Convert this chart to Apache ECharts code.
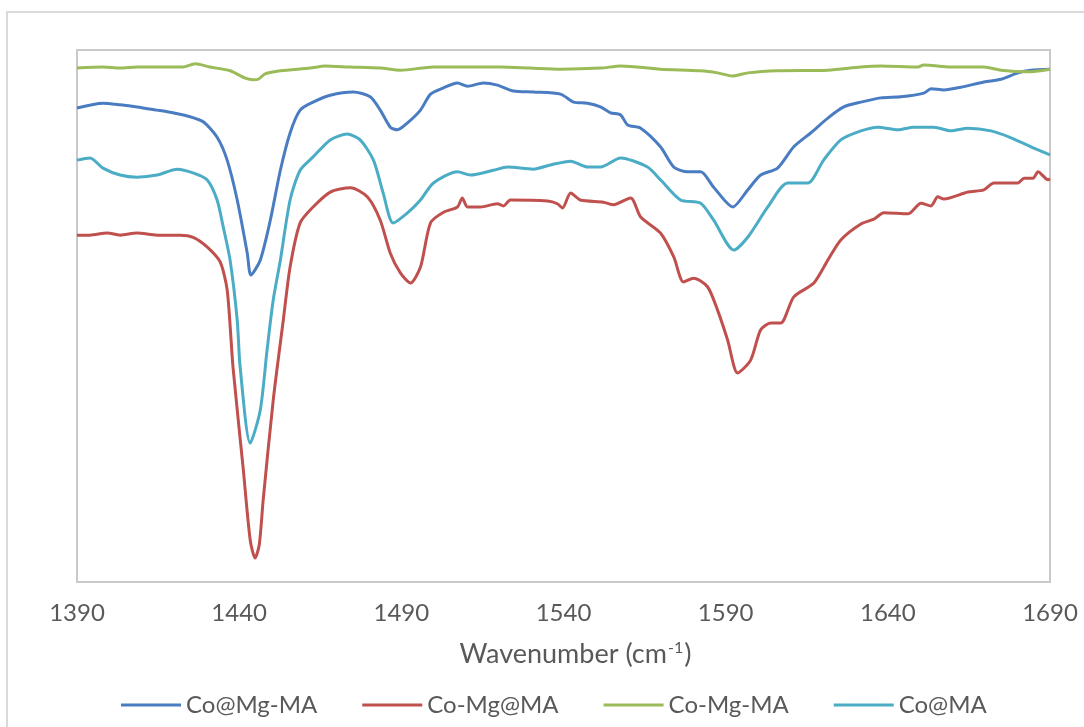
<!DOCTYPE html>
<html>
<head>
<meta charset="utf-8">
<title>FTIR spectra</title>
<script src="https://cdn.jsdelivr.net/npm/echarts@6/dist/echarts.min.js"></script>
<style>
  html, body { margin: 0; padding: 0; background: #ffffff; }
  #chart { width: 1084px; height: 727px; }
</style>
</head>
<body>
<div id="chart"></div>
<script>
// FTIR spectra, 1390–1690 cm-1, transmittance in arbitrary units (offset traces)
const seriesNames = ['Co@Mg-MA', 'Co-Mg@MA', 'Co-Mg-MA', 'Co@MA'];
const xTicks = [1390, 1440, 1490, 1540, 1590, 1640, 1690];

// Co@Mg-MA
const coAtMgMA = [
  [1390, 89.1], [1398, 90.0], [1403.3, 89.7], [1408.5, 89.3], [1414.7, 88.7],
  [1418.7, 88.3], [1424, 87.6], [1428.9, 86.5], [1433.2, 83.6], [1436.3, 79.3],
  [1439.4, 71.8], [1442.5, 61.8], [1443.6, 57.7], [1446.5, 60.5], [1449.6, 68.0],
  [1452.7, 77.4], [1455.7, 84.4], [1458.8, 88.7], [1462.8, 90.2], [1468.1, 91.5],
  [1475.2, 92.1], [1480.4, 91.2], [1483.5, 88.7], [1486.6, 85.5], [1488.8, 85.0],
  [1491.9, 86.3], [1495.9, 88.7], [1499, 91.7], [1503, 92.9], [1507.3, 93.8],
  [1510.4, 93.2], [1515.3, 93.8], [1519.6, 93.4], [1524.6, 92.3], [1530.7, 92.1],
  [1539.1, 91.7], [1543.1, 90.2], [1547.4, 90.0], [1551.4, 89.3], [1554.5, 88.2],
  [1557.6, 87.8], [1559.8, 85.9], [1563.8, 85.3], [1569.9, 81.8], [1574, 78.0],
  [1578.3, 77.1], [1582.3, 77.1], [1586.3, 74.2], [1592.2, 70.5], [1596.8, 73.7],
  [1600.8, 76.5], [1606, 77.8], [1611, 81.8], [1616.2, 84.4], [1621.5, 87.2],
  [1626.4, 89.3], [1631.7, 90.2], [1637.8, 91.0], [1644, 91.2], [1651.1, 91.9],
  [1653.3, 92.7], [1657.3, 92.5], [1662.5, 93.0], [1669.6, 94.0], [1674.9, 94.5],
  [1680.1, 95.7], [1684.1, 96.2], [1690, 96.4]
];

// Co-Mg@MA
const coMgAtMA = [
  [1390, 65.2], [1394, 65.2], [1399.3, 65.6], [1403.3, 65.2], [1408.5, 65.6],
  [1414.7, 65.2], [1421.8, 65.2], [1425.8, 64.8], [1430.1, 63.0], [1434.1, 60.2],
  [1436.3, 54.9], [1438.1, 40.4], [1441.2, 21.6], [1443.4, 7.9], [1444.9, 4.5],
  [1446.2, 7.0], [1447.4, 15.4], [1450.5, 34.2], [1453.6, 49.2], [1455.7, 59.2],
  [1458.8, 67.5], [1462.8, 70.5], [1468.1, 73.3], [1474.3, 74.1], [1479.5, 72.4],
  [1483.5, 68.0], [1486.6, 61.8], [1489.7, 58.1], [1492.8, 56.2], [1495.9, 59.2],
  [1499, 67.5], [1503, 69.5], [1507.3, 70.5], [1508.8, 72.2], [1510.4, 70.5],
  [1514.4, 70.5], [1519.6, 71.1], [1521.5, 70.7], [1523.6, 71.8], [1535.1, 71.6],
  [1538.1, 71.1], [1539.7, 70.3], [1542.2, 73.1], [1545.2, 71.8], [1552.3, 71.4],
  [1555.4, 70.9], [1560.7, 72.2], [1563.8, 68.6], [1569.9, 65.6], [1574, 61.1],
  [1577, 56.4], [1580.1, 57.1], [1584.4, 55.5], [1587.5, 51.1], [1590.6, 45.5],
  [1593.7, 39.3], [1597.7, 41.7], [1600.8, 47.4], [1603.9, 48.7], [1607, 48.7],
  [1611, 53.6], [1617.2, 56.2], [1621.5, 60.5], [1625.5, 64.3], [1631.7, 67.3],
  [1635.7, 68.2], [1638.8, 69.4], [1646.2, 69.2], [1650.2, 71.2], [1653.3, 70.7],
  [1655.4, 72.4], [1657.3, 72.0], [1664.7, 73.3], [1669.6, 73.7], [1672.7, 75.0],
  [1680.1, 75.0], [1682, 75.9], [1684.8, 75.9], [1686.3, 77.1], [1689.4, 75.6],
  [1690, 75.8]
];

// Co-Mg-MA
const coMgMA = [
  [1390, 96.6], [1398, 96.8], [1403.3, 96.6], [1408.5, 96.8], [1418.7, 96.8],
  [1422.7, 96.8], [1426.4, 97.4], [1431, 96.8], [1437.2, 96.1], [1441.9, 94.7],
  [1444.3, 94.4], [1445.9, 94.5], [1448, 95.5], [1452.7, 96.1], [1461.9, 96.6],
  [1466.5, 97.0], [1474.3, 96.8], [1483.5, 96.6], [1489.7, 96.2], [1499.9, 96.8],
  [1511.3, 96.8], [1520.6, 96.8], [1529.8, 96.6], [1539.1, 96.4], [1551.4, 96.6],
  [1557.6, 97.0], [1569.9, 96.4], [1582.3, 96.1], [1587.5, 95.7], [1592.2, 95.1],
  [1596.8, 95.7], [1606, 96.1], [1621.5, 96.2], [1631.7, 96.8], [1637.8, 97.0],
  [1649.3, 96.8], [1651.1, 97.2], [1659.4, 96.8], [1669.6, 96.8], [1674.9, 96.2],
  [1683.2, 95.9], [1690, 96.4]
];

// Co@MA
const coAtMA = [
  [1390, 79.3], [1394, 79.7], [1398, 77.8], [1403.3, 76.5], [1408.5, 76.1],
  [1414.7, 76.5], [1420.9, 77.6], [1425.8, 76.9], [1430.1, 75.6], [1433.2, 71.8],
  [1435.1, 66.7], [1437.2, 60.5], [1439.4, 49.2], [1440.3, 40.4], [1443.4, 26.1],
  [1446.5, 32.3], [1448.6, 43.6], [1450.5, 53.0], [1452.7, 60.5], [1455.7, 71.8],
  [1458.8, 77.4], [1462.8, 79.9], [1468.1, 83.1], [1473.3, 84.2], [1477.3, 83.1],
  [1481.4, 79.3], [1484.4, 73.1], [1487.5, 67.5], [1491.9, 69.4], [1495.9, 71.8],
  [1499.9, 75.0], [1507.3, 77.1], [1511.3, 76.5], [1518.4, 77.4], [1522.7, 78.0],
  [1530.7, 77.6], [1536, 78.4], [1542.2, 79.1], [1547.4, 78.0], [1551.4, 78.0],
  [1557.6, 79.7], [1565.9, 78.0], [1569.9, 75.6], [1576.1, 71.8], [1582.3, 71.2],
  [1586.3, 68.0], [1592.5, 62.4], [1596.8, 64.8], [1603, 70.5], [1609.1, 75.0],
  [1615.3, 75.0], [1620.2, 79.3], [1625.5, 83.1], [1631.7, 84.8], [1636.9, 85.5],
  [1643.1, 85.0], [1648, 85.5], [1654.2, 85.5], [1659.4, 84.8], [1664.7, 85.3],
  [1671.8, 84.8], [1678, 83.5], [1684.1, 81.8], [1690, 80.3]
];

const seriesData = [coAtMgMA, coMgAtMA, coMgMA, coAtMA];
const seriesColors = ['#4a7cc2', '#c0504d', '#9bbb59', '#4bacc6'];

const chart = echarts.init(document.getElementById('chart'), null, { renderer: 'canvas' });
const font = 'Lato, "Open Sans", "Liberation Sans", sans-serif';

chart.setOption({
  backgroundColor: '#ffffff',
  animation: false,
  graphic: [{
    type: 'rect',
    shape: { x: 7, y: 12, width: 1200, height: 900 },
    style: { fill: 'none', stroke: '#d9d9d9', lineWidth: 2 },
    silent: true,
    z: -10
  }],
  grid: {
    left: 77, right: 34, top: 50, bottom: 145,
    show: true,
    borderColor: '#c9c9c9',
    borderWidth: 2,
    backgroundColor: 'transparent'
  },
  legend: {
    data: seriesNames,
    top: 693,
    left: 121,
    padding: 0,
    icon: 'rect',
    itemWidth: 60,
    itemHeight: 3,
    itemGap: 45,
    textStyle: { fontFamily: font, fontSize: 24, color: '#595959' }
  },
  xAxis: {
    type: 'value',
    min: xTicks[0],
    max: xTicks[xTicks.length - 1],
    interval: 50,
    axisLine: { show: false },
    axisTick: { show: false },
    splitLine: { show: false },
    axisLabel: {
      margin: 19,
      fontFamily: font,
      fontSize: 24,
      color: '#595959',
      showMinLabel: true,
      showMaxLabel: true,
      formatter: (v) => String(v)
    },
    name: '{a|Wavenumber (cm}{s|-1}{a|)}',
    nameLocation: 'middle',
    nameGap: 58,
    nameTextStyle: {
      padding: [0, 0, 0, 24],
      rich: {
        a: { fontFamily: font, fontSize: 27, color: '#595959' },
        s: { fontFamily: font, fontSize: 16, color: '#595959', verticalAlign: 'top', padding: [0, 1, 12, 1] }
      }
    }
  },
  yAxis: {
    type: 'value',
    min: 0,
    max: 100,
    show: false,
    splitLine: { show: false }
  },
  series: seriesNames.map((name, i) => ({
    name: name,
    type: 'line',
    data: seriesData[i],
    symbol: 'none',
    smooth: 0.25,
    lineStyle: { width: 3, color: seriesColors[i] },
    itemStyle: { color: seriesColors[i] }
  }))
});
</script>
</body>
</html>
